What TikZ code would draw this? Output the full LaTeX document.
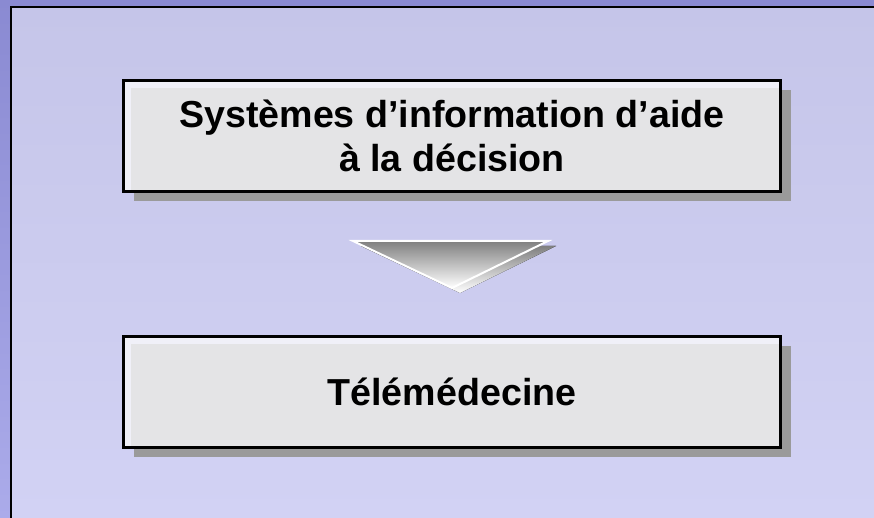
\documentclass[tikz,border=0pt]{standalone}
\usepackage{fontspec}
\setmainfont{Liberation Sans}
\usepackage{tikz}
\usetikzlibrary{positioning,calc,shadows}
\definecolor{band}{HTML}{8A8AD2}
\definecolor{bandlow}{HTML}{ABABEA}
\definecolor{lavtop}{HTML}{C5C5E9}
\definecolor{lavlow}{HTML}{D2D2F4}
\definecolor{boxfill}{HTML}{E4E4E6}
\definecolor{boxlight}{HTML}{F0F0F8}
\definecolor{shade}{HTML}{9A9A9A}
\tikzstyle{stage}=[draw,line width=3pt,fill=boxfill,minimum width=657pt,minimum height=111pt,
  inner sep=0pt,align=center,font=\fontsize{37.6}{44}\selectfont\bfseries,
  drop shadow={shadow xshift=10pt,shadow yshift=-10pt,fill=shade,opacity=1},
  path picture={\fill[boxlight] (path picture bounding box.north west) rectangle
    ($(path picture bounding box.north east)+(0,-8pt)$);
    \fill[boxlight] (path picture bounding box.north west) rectangle
    ($(path picture bounding box.south west)+(7pt,0)$);
    \fill[boxfill] ($(path picture bounding box.north west)+(7pt,-8pt)$) rectangle
    (path picture bounding box.south east);}]

\begin{document}
\begin{tikzpicture}[x=1pt,y=-1pt]
\useasboundingbox (0,0) rectangle (874,518);
% background
\shade[top color=band,bottom color=bandlow] (0,0) rectangle (874,518);
\shade[top color=lavtop,bottom color=lavlow] (11,7) rectangle (874,518);
\draw[line width=2.6pt] (11,518) -- (11,7) -- (874,7);
% boxes
\node [stage] (decision) at (452,136) {Systèmes d’information d’aide\\à la décision};
\node [stage] (tele) at (452,391.5) {Télémédecine};
% arrow between them
\coordinate (tl) at (353,241);
\coordinate (tr) at (548,241);
\coordinate (tip) at (452,288);
\fill[shade] ($(tl)+(8,5)$) -- ($(tr)+(8,5)$) -- ($(tip)+(8,5)$) -- cycle;
\shade[top color=black!50,bottom color=white,draw=white,line width=2pt,line join=miter]
  (tl) -- (tr) -- (tip) -- cycle;
\end{tikzpicture}
\end{document}
